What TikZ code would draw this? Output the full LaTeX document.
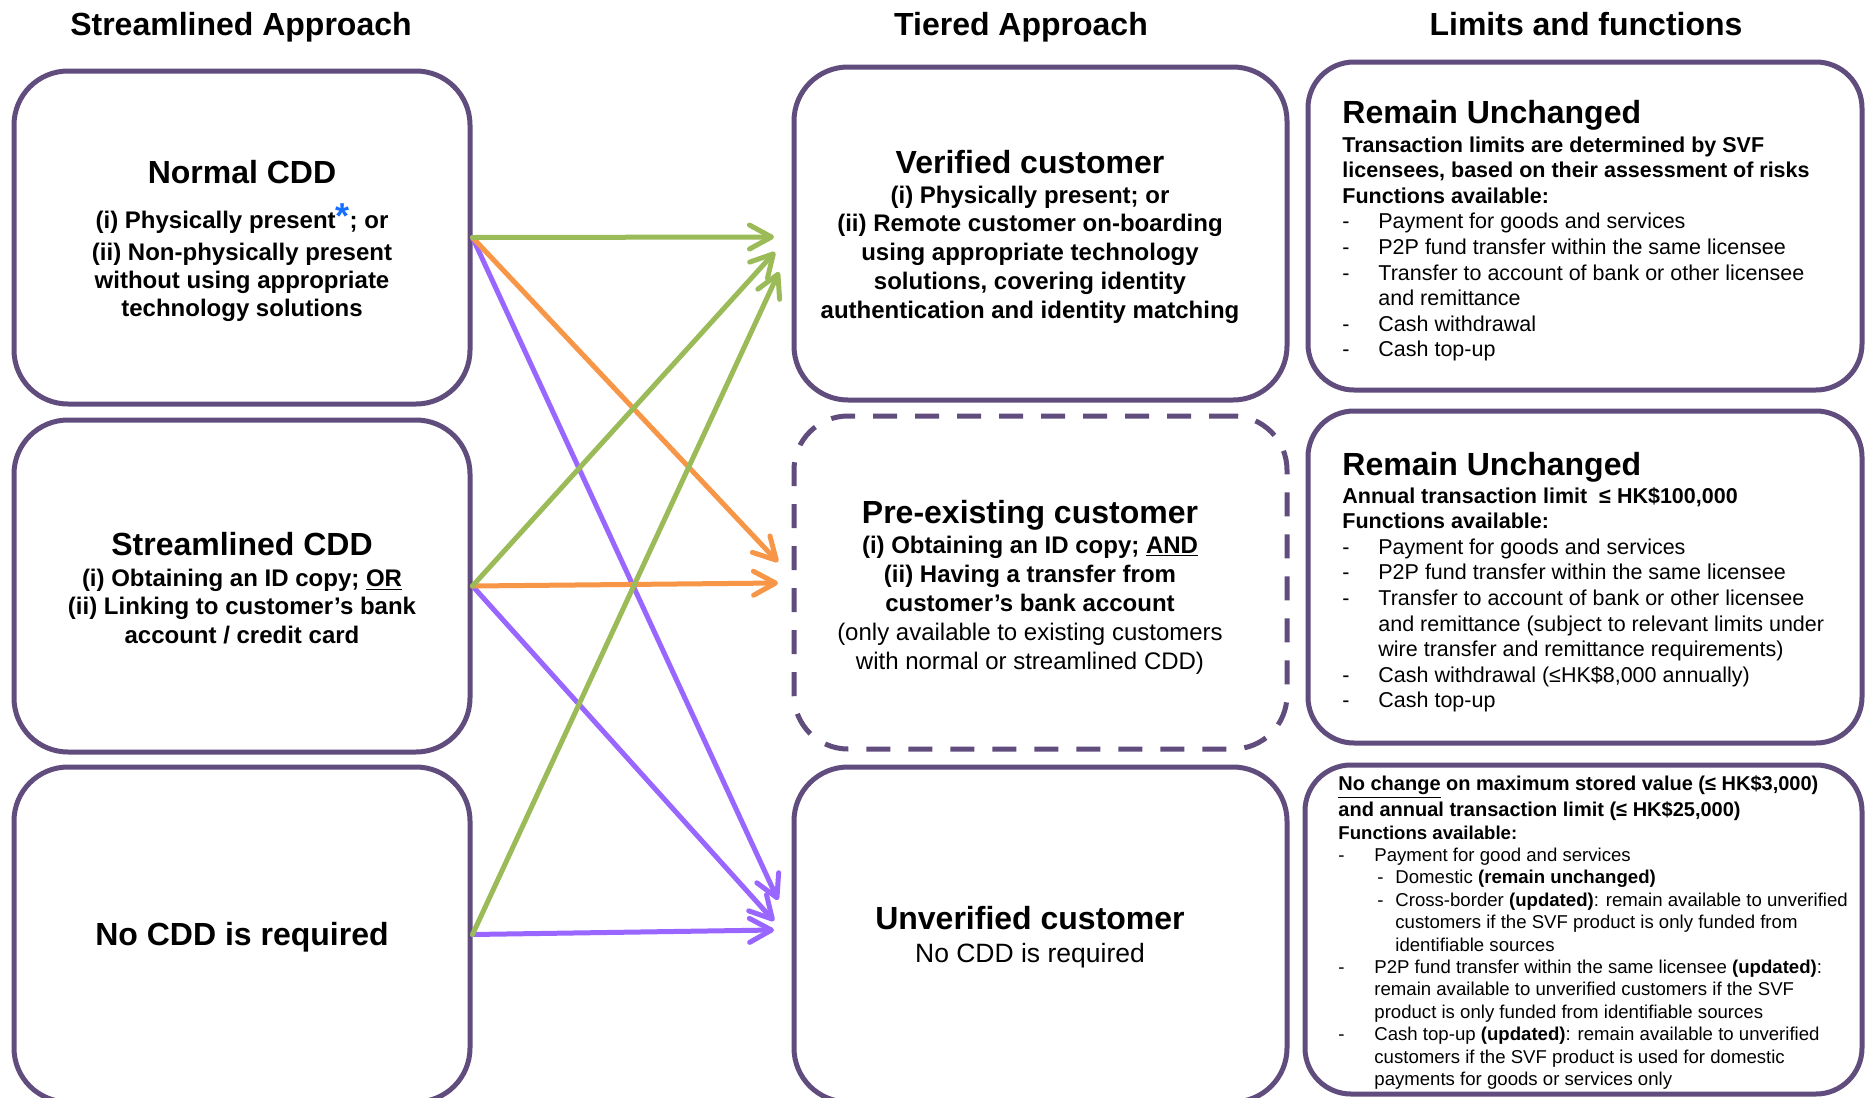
\documentclass[tikz,border=0pt]{standalone}
\usepackage{fontspec}
\setmainfont{Liberation Sans}
\usetikzlibrary{arrows.meta}
\definecolor{bpurple}{RGB}{96,76,125}
\definecolor{agreen}{RGB}{155,187,89}
\definecolor{aorange}{RGB}{247,150,70}
\definecolor{apurple}{RGB}{153,102,255}
\definecolor{astblue}{RGB}{20,110,255}
\newcommand{\dashit}{\makebox[18pt][l]{-}}
\newcommand{\subdash}{\hspace*{19.5pt}\makebox[9pt][l]{-}}
\newcommand{\fTitle}{\fontsize{16}{19}\selectfont\bfseries}
\begin{document}
\begin{tikzpicture}[x=0.5pt,y=-0.5pt,
  box/.style={draw=bpurple, line width=2.5pt, rounded corners=27pt, fill=white, inner sep=0pt},
  dbox/.style={box, dash pattern=on 12pt off 9pt},
  rbox/.style={box, rounded corners=23pt},
  hdr/.style={inner sep=0pt, anchor=base, font=\fTitle},
  ttl/.style={inner sep=0pt, anchor=base, font=\fTitle},
  ctr/.style={inner sep=0pt, anchor=base},
  lt/.style={inner sep=0pt, anchor=base west},
  arr/.style={line width=2.5pt, line cap=round, -{Straight Barb[length=11pt,width=12pt,round]}},
  ga/.style={arr, draw=agreen},
  oa/.style={arr, draw=aorange},
  pa/.style={arr, draw=apurple}]
\useasboundingbox (0,0) rectangle (1865,1098);
\fill[white] (0,0) rectangle (1865,1098);

% headers
\node[hdr] (h1) at (241,35) {Streamlined Approach};
\node[hdr] (h2) at (1021,35) {Tiered Approach};
\node[hdr] (h3) at (1586,35) {Limits and functions};

% left boxes
\node[box, minimum width=228pt, minimum height=166.5pt] (nc) at (242,237.5) {};
\node[box, minimum width=228pt, minimum height=166pt] (sc) at (242,586) {};
\node[box, minimum width=228pt, minimum height=167.5pt] (no) at (242,934.5) {};

% middle boxes
\node[box, minimum width=246.5pt, minimum height=166.5pt] (ver) at (1040.5,233.5) {};
\node[dbox, minimum width=246.5pt, minimum height=166.5pt] (pre) at (1040.5,582.5) {};
\node[box, minimum width=246.5pt, minimum height=167.5pt] (unv) at (1040.5,934.5) {};

% right boxes
\node[rbox, minimum width=277pt, minimum height=164pt] (r1) at (1585,226) {};
\node[rbox, minimum width=277pt, minimum height=166pt] (r2) at (1585,577) {};
\node[rbox, minimum width=278.5pt, minimum height=164.5pt] (r3) at (1583.5,929.5) {};

% left texts
\node[ttl] (nct) at (242,183) {Normal CDD};
\node[ctr] (ncb) at (242,228) {\parbox[t]{220pt}{\centering\fontsize{12}{14}\selectfont\bfseries
(i) Physically present{\fontsize{18}{14}\selectfont\color{astblue}*}; or\\[2pt]
(ii) Non-physically present\\
without using appropriate\\
technology solutions}};

\node[ttl] (sct) at (242,555) {Streamlined CDD};
\node[ctr] (scb) at (242,586) {\parbox[t]{220pt}{\centering\fontsize{12}{14.25}\selectfont\bfseries
(i) Obtaining an ID copy; \underline{OR}\\
(ii) Linking to customer’s bank\\
account / credit card}};

\node[ttl] (not) at (242,945) {No CDD is required};

% middle texts
\node[ttl] (vert) at (1030,173) {Verified customer};
\node[ctr] (verb) at (1030,203) {\parbox[t]{240pt}{\centering\fontsize{12}{14.4}\selectfont\bfseries
(i) Physically present; or\\
(ii) Remote customer on-boarding\\
using appropriate technology\\
solutions, covering identity\\
authentication and identity matching}};

\node[ttl] (pret) at (1030,523) {Pre-existing customer};
\node[ctr] (preb) at (1030,553) {\parbox[t]{240pt}{\centering\fontsize{12}{14.5}\selectfont
\textbf{(i) Obtaining an ID copy; \underline{AND}}\\
\textbf{(ii) Having a transfer from}\\
\textbf{customer’s bank account}\\
(only available to existing customers\\
with normal or streamlined CDD)}};

\node[ttl] (unvt) at (1030,929) {Unverified customer};
\node[ctr, font=\fontsize{13.25}{16}\selectfont] (unvb) at (1030,962) {No CDD is required};

% right texts
\node[lt, font=\fTitle] (r1t) at (1342,123) {Remain Unchanged};
\node[lt] (r1b) at (1342,152) {\parbox[t]{270pt}{\raggedright\fontsize{10.75}{12.8}\selectfont
\textbf{Transaction limits are determined by SVF}\\
\textbf{licensees, based on their assessment of risks}\\
\textbf{Functions available:}\\
\dashit Payment for goods and services\\
\dashit P2P fund transfer within the same licensee\\
\dashit Transfer to account of bank or other licensee\\
\hspace*{18pt}and remittance\\
\dashit Cash withdrawal\\
\dashit Cash top-up}};

\node[lt, font=\fTitle] (r2t) at (1342,475) {Remain Unchanged};
\node[lt] (r2b) at (1342,503) {\parbox[t]{270pt}{\raggedright\fontsize{10.75}{12.8}\selectfont
\textbf{Annual transaction limit\ \ ≤ HK\$100,000}\\
\textbf{Functions available:}\\
\dashit Payment for goods and services\\
\dashit P2P fund transfer within the same licensee\\
\dashit Transfer to account of bank or other licensee\\
\hspace*{18pt}and remittance (subject to relevant limits under\\
\hspace*{18pt}wire transfer and remittance requirements)\\
\dashit Cash withdrawal (≤HK\$8,000 annually)\\
\dashit Cash top-up}};

\node[lt] (r3b) at (1338,790) {\parbox[t]{280pt}{\raggedright\fontsize{9.3}{11.2}\selectfont
{\fontsize{10}{11.2}\selectfont\bfseries \underline{No change} on maximum stored value (≤ HK\$3,000)}\\[0.8pt]
{\fontsize{10}{11.2}\selectfont\bfseries and annual transaction limit (≤ HK\$25,000)}\\
\textbf{Functions available:}\\
\dashit Payment for good and services\\
\subdash Domestic \textbf{(remain unchanged)}\\
\subdash Cross-border \textbf{(updated)}: remain available to unverified\\
\hspace*{28.5pt}customers if the SVF product is only funded from\\
\hspace*{28.5pt}identifiable sources\\
\dashit P2P fund transfer within the same licensee \textbf{(updated)}:\\
\hspace*{18pt}remain available to unverified customers if the SVF\\
\hspace*{18pt}product is only funded from identifiable sources\\
\dashit Cash top-up \textbf{(updated)}: remain available to unverified\\
\hspace*{18pt}customers if the SVF product is used for domestic\\
\hspace*{18pt}payments for goods or services only}};

% arrow targets
\coordinate (g1) at (774,237);
\coordinate (g2) at (775,252);
\coordinate (g3) at (779,272);
\coordinate (o1) at (778,562);
\coordinate (o2) at (778,583);
\coordinate (p1) at (778,900);
\coordinate (p2) at (774,921);
\coordinate (p3) at (774,930);

% arrows
\draw[pa] (nc.east) -- (p1);
\draw[pa] (sc.east) -- (p2);
\draw[pa] (no.east) -- (p3);
\draw[oa] (nc.east) -- (o1);
\draw[oa] (sc.east) -- (o2);
\draw[ga] (nc.east) -- (g1);
\draw[ga] (sc.east) -- (g2);
\draw[ga] (no.east) -- (g3);
\end{tikzpicture}
\end{document}
